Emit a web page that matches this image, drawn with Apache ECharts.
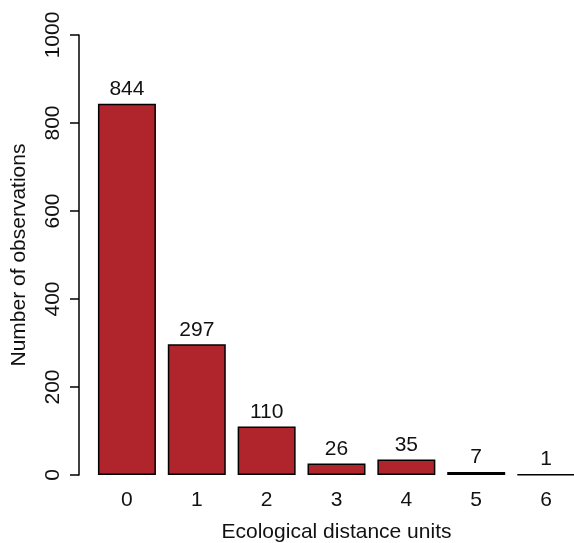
<!DOCTYPE html>
<html>
<head>
<meta charset="utf-8">
<script src="https://cdn.jsdelivr.net/npm/echarts@6/dist/echarts.min.js"></script>
<style>
  html, body { margin: 0; padding: 0; background: #fff; }
  #chart { width: 574px; height: 543px; }
</style>
</head>
<body>
<div id="chart"></div>
<script>
// categories and counts
const categories = ["0", "1", "2", "3", "4", "5", "6"];
const counts = [844, 297, 110, 26, 35, 7, 1];
const yTicks = [0, 200, 400, 600, 800, 1000];

const font = "Liberation Sans, Arial, sans-serif";

let chart = echarts.init(document.getElementById("chart"));

let option = {
  animation: false,
  backgroundColor: "#ffffff",
  grid: {
    left: 92,
    top: 35,
    bottom: 68,
    right: -7,
    containLabel: false,
    outerBoundsMode: "none",
  },
  xAxis: {
    type: "category",
    data: categories,
    name: "Ecological distance units",
    nameLocation: "middle",
    nameGap: 47,
    nameTextStyle: { fontFamily: font, fontSize: 21, color: "#111" },
    axisLine: { show: false },
    axisTick: { show: false },
    axisLabel: { fontFamily: font, fontSize: 21, color: "#111", margin: 15 },
  },
  yAxis: {
    type: "value",
    min: yTicks[0],
    max: yTicks[yTicks.length - 1],
    interval: 200,
    offset: 13,
    name: "Number of observations",
    nameLocation: "middle",
    nameGap: 49,
    nameTextStyle: { fontFamily: font, fontSize: 21, color: "#111" },
    axisLine: { show: true, lineStyle: { color: "#000", width: 1.5 } },
    axisTick: { show: true, length: 9, lineStyle: { color: "#000", width: 1.5 } },
    axisLabel: {
      rotate: 90,
      fontFamily: font,
      fontSize: 21,
      color: "#111",
      margin: 15,
      formatter: (v) => String(v),
    },
    splitLine: { show: false },
  },
  series: [
    {
      type: "bar",
      data: counts,
      barCategoryGap: "17%",
      itemStyle: {
        color: "#b0242c",
        borderColor: "#000",
        borderWidth: 1.5,
      },
      label: {
        show: true,
        position: "top",
        distance: 4,
        fontFamily: font,
        fontSize: 21,
        color: "#111",
      },
    },
  ],
};

chart.setOption(option);
</script>
</body>
</html>
